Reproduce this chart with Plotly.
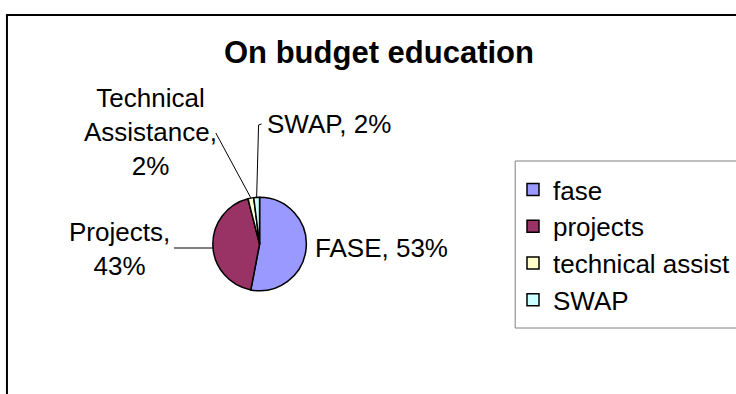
import math
import plotly.graph_objects as go

# ---- data ----
legend_labels = ["fase", "projects", "technical assist", "SWAP"]
label_names = ["FASE", "Projects", "Technical<br>Assistance", "SWAP"]
values = [53, 43, 2, 2]
colors = ["#9999FF", "#993366", "#FFFFCC", "#CCFFFF"]
title_text = "On budget education"

# ---- layout constants (pixels) ----
W, H = 736, 394
CX, CY, R = 261, 244, 47
FONT = "Liberation Sans, Arial, sans-serif"
FS = 26

def px(x):
    return x / W

def py(y):
    return 1 - y / H

total = sum(values)
pcts = [round(v / total * 100) for v in values]

# label texts built from data
sep = [" ", "<br>", "<br>", " "]
label_texts = [f"{n},{s}{p}%" for n, s, p in zip(label_names, sep, pcts)]

# label positions / anchors (layout)
label_pos = [
    dict(x=315, y=248, xanchor="left"),
    dict(x=120, y=249, xanchor="center"),
    dict(x=151, y=132, xanchor="center"),
    dict(x=266, y=124, xanchor="left"),
]
# leader-line elbow points (label side), None = no leader
leader_start = [None, [(175, 248)], [(217, 133)], [(263, 124), (260, 125)]]

# slice mid angles (clockwise from 12 o'clock)
mids = []
acc = 0
for v in values:
    mids.append((acc + v / 2) / total * 360)
    acc += v

def on_circle(angle_deg):
    a = math.radians(angle_deg)
    return CX + R * math.sin(a), CY - R * math.cos(a)

fig = go.Figure(
    go.Pie(
        labels=legend_labels,
        values=values,
        sort=False,
        direction="clockwise",
        rotation=0,
        textinfo="none",
        hoverinfo="label+percent",
        marker=dict(colors=colors, line=dict(color="black", width=1.5)),
        domain=dict(x=[px(CX - R), px(CX + R)], y=[py(CY + R), py(CY - R)]),
    )
)

annotations = []
for t, pos in zip(label_texts, label_pos):
    annotations.append(
        dict(
            text=t, x=px(pos["x"]), y=py(pos["y"]), xref="paper", yref="paper",
            xanchor=pos["xanchor"], yanchor="middle", align="center",
            showarrow=False, font=dict(family=FONT, size=FS, color="black"),
        )
    )

RIGHT = 760
shapes = []
# chart frame (left and top edges visible)
shapes.append(dict(type="line", xref="paper", yref="paper",
                   x0=px(7), x1=px(7), y0=py(15), y1=py(400),
                   line=dict(color="black", width=2)))
shapes.append(dict(type="line", xref="paper", yref="paper",
                   x0=px(6), x1=px(RIGHT), y0=py(15), y1=py(15),
                   line=dict(color="black", width=2)))
# legend box (runs off the right edge)
shapes.append(dict(type="line", xref="paper", yref="paper",
                   x0=px(518), x1=px(518), y0=py(161), y1=py(328),
                   line=dict(color="#808080", width=1)))
shapes.append(dict(type="line", xref="paper", yref="paper",
                   x0=px(518), x1=px(RIGHT), y0=py(161), y1=py(161),
                   line=dict(color="#808080", width=1)))
shapes.append(dict(type="line", xref="paper", yref="paper",
                   x0=px(518), x1=px(RIGHT), y0=py(328), y1=py(328),
                   line=dict(color="#808080", width=1)))
# leader lines
for i, pts in enumerate(leader_start):
    if pts is None:
        continue
    end = on_circle(mids[i])
    if i == 1:
        end = (CX - math.sqrt(R * R - (pts[0][1] - CY) ** 2), pts[0][1])
    allp = pts + [end]
    path = "M " + " L ".join(f"{px(x)},{py(y)}" for x, y in allp)
    shapes.append(dict(type="path", xref="paper", yref="paper", path=path,
                       line=dict(color="black", width=1)))

fig.update_layout(
    width=W, height=H,
    margin=dict(l=0, r=0, t=0, b=0),
    paper_bgcolor="white", plot_bgcolor="white",
    font=dict(family=FONT, size=FS, color="black"),
    title=dict(text=f"<b>{title_text}</b>", x=px(379), xanchor="center",
               y=py(52), yanchor="middle", yref="container",
               font=dict(family=FONT, size=31, color="black")),
    showlegend=True,
    legend=dict(x=px(516), y=py(166), xanchor="left", yanchor="top",
                borderwidth=0, bgcolor="rgba(0,0,0,0)",
                font=dict(family=FONT, size=FS, color="black"),
                itemwidth=30),
    annotations=annotations,
    shapes=shapes,
)

fig.write_html("out.html")
